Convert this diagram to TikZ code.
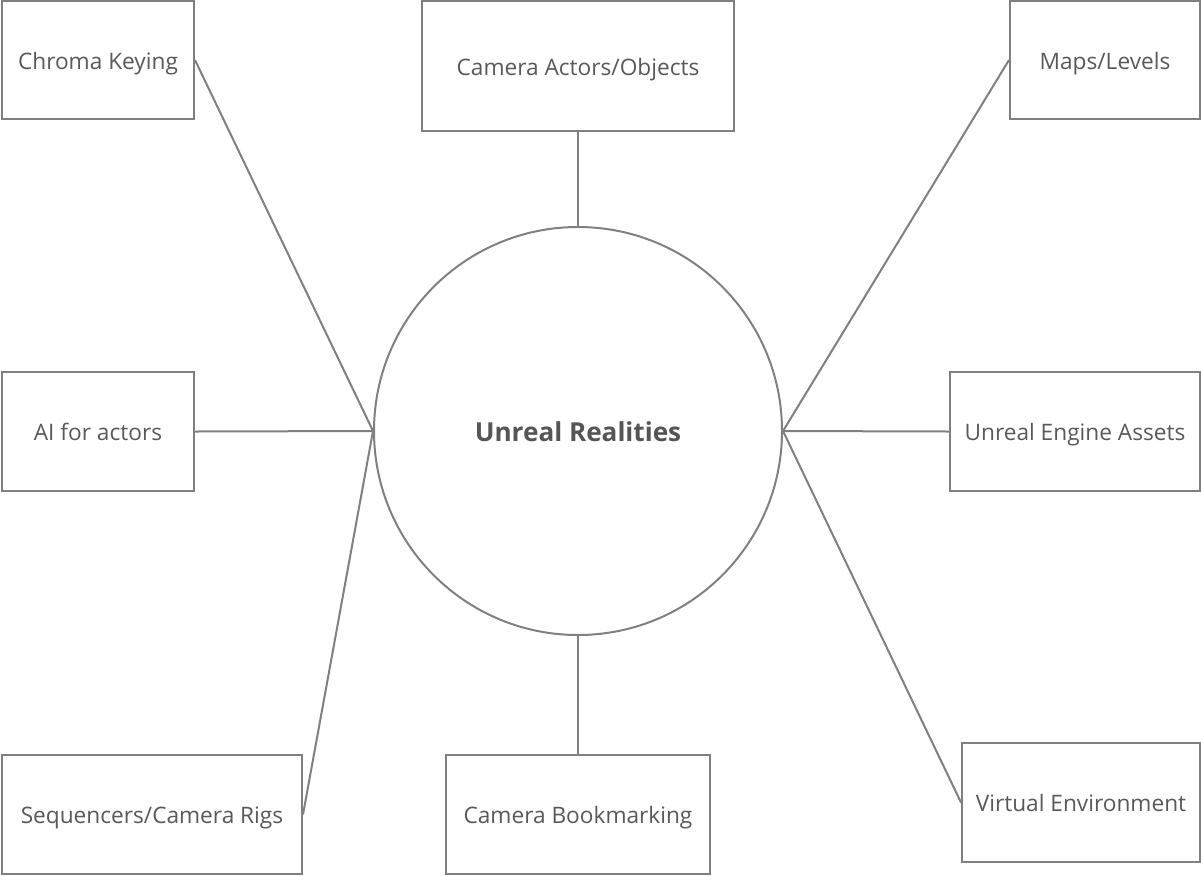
\documentclass[tikz,border=0pt]{standalone}
\usepackage{fontspec}
\setmainfont{Open Sans}
\definecolor{ln}{HTML}{808080}
\definecolor{tx}{HTML}{595959}
\definecolor{ttx}{HTML}{555555}
\tikzset{
  box/.style 2 args={draw=ln, line width=1.5pt, fill=white, text=tx,
    minimum width=#1*0.75pt, minimum height=#2*0.75pt, inner sep=0pt,
    text height=14.2pt, text depth=0pt,
    font=\fontsize{17pt}{20pt}\selectfont},
  hub/.style={draw=ln, line width=1.5pt, circle, minimum size=408*0.75pt, inner sep=0pt,
    text height=16pt, text depth=0pt,
    text=ttx, font=\fontsize{19.6pt}{24pt}\selectfont\bfseries},
  link/.style={draw=ln, line width=1.5pt}
}
\begin{document}
\begin{tikzpicture}[x=0.75pt,y=-0.75pt]
\useasboundingbox (0,0) rectangle (1201,875);
\node[hub] (c) at (578,431) {Unreal Realities};
\node[box={192}{118}] (chroma) at (98,60) {Chroma Keying};
\node[box={312}{130}] (camact) at (578,66) {Camera Actors/Objects};
\node[box={190}{118}] (maps) at (1105,60) {Maps/Levels};
\node[box={192}{119}] (ai) at (98,431.5) {AI for actors};
\node[box={250}{119}] (uea) at (1075,431.5) {Unreal Engine Assets};
\node[box={300}{119}] (seq) at (152,814.5) {Sequencers/Camera Rigs};
\node[box={264}{119}] (bookm) at (578,814.5) {Camera Bookmarking};
\node[box={238}{119}] (virt) at (1081,802.5) {Virtual Environment};
\draw[link] (chroma.east) -- (c.west);
\draw[link] (ai.east) -- (c.west);
\draw[link] (seq.east) -- (c.west);
\draw[link] (camact.south) -- (c.north);
\draw[link] (bookm.north) -- (c.south);
\draw[link] (maps.west) -- (c.east);
\draw[link] (uea.west) -- (c.east);
\draw[link] (virt.west) -- (c.east);
\end{tikzpicture}
\end{document}
